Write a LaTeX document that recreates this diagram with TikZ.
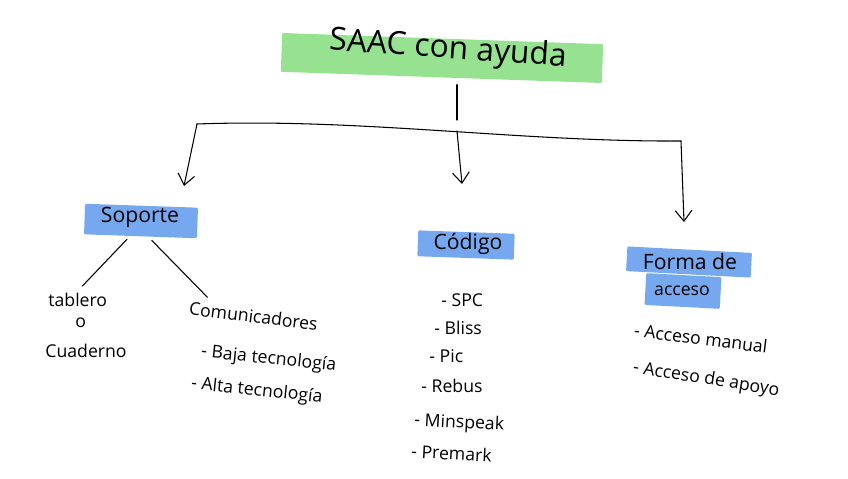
\documentclass[tikz,border=0pt]{standalone}
\usepackage{fontspec}
\setmainfont{Open Sans}
\usetikzlibrary{positioning, arrows.meta, calc}
\definecolor{hlgreen}{RGB}{150,226,145}
\definecolor{hlblue}{RGB}{118,168,240}
\tikzset{hl/.style={inner sep=0pt, rounded corners=1pt},
head_t/.style={font=\fontsize{18}{20}\selectfont, inner sep=1pt},
leaf_t/.style={font=\fontsize{15}{17}\selectfont, anchor=west, inner sep=1pt},
pen/.style={line width=0.9pt, line cap=round, line join=round},
arr/.style={pen, -{Straight Barb[length=3.2mm, width=5mm, line width=0.9pt]}}}

\begin{document}
\begin{tikzpicture}[x=0.85pt, y=-0.85pt]
  \useasboundingbox (0,0) rectangle (848,479);
  % title
  \node[hl, fill=hlgreen, minimum width=273pt, minimum height=33pt, rotate=-2] (titlebg) at (442,58) {};
  \node[font=\fontsize{27}{30}\selectfont, rotate=-4] (title) at (448,50) {SAAC con ayuda};
  % heads
  \node[hl, fill=hlblue, minimum width=96pt, minimum height=26pt, rotate=-2] (sopbg) at (141,221) {};
  \node[head_t] (sop) at (140,217) {Soporte};
  \node[hl, fill=hlblue, minimum width=82pt, minimum height=22pt, rotate=-2] (codbg) at (466,245) {};
  \node[head_t] (cod) at (468,244) {Código};
  \node[hl, fill=hlblue, minimum width=106pt, minimum height=21pt, rotate=-3] (forbg1) at (689,262) {};
  \node[hl, fill=hlblue, minimum width=64pt, minimum height=27pt, rotate=-3] (forbg2) at (683,291) {};
  \node[head_t] (for1) at (690,262) {Forma de};
  \node[head_t, font=\fontsize{15}{17}\selectfont] (for2) at (682,291) {acceso};
  % bus
  \coordinate (hub) at (457,120);
  \coordinate (busL) at (197,124);
  \coordinate (busM) at (457,131);
  \coordinate (busR) at (681,141);
  \coordinate (tipS) at (184,186);
  \coordinate (tipC) at (462,184);
  \coordinate (tipF) at (684,222);
  \draw[pen, shorten <=6pt] (titlebg.south -| hub) -- (hub);
  \draw[pen] (busL) .. controls (360,118) and (520,142) .. (busR);
  \draw[arr] (busL) -- (tipS);
  \draw[arr] (busM) -- (tipC);
  \draw[arr] (busR) -- (tipF);
  % soporte
  \node[leaf_t] (tab) at (47,300) {tablero};
  \node[leaf_t] (o) at (74,323) {o};
  \node[leaf_t] (cua) at (44,351) {Cuaderno};
  \node[leaf_t, rotate=-7] (com) at (188,308) {Comunicadores};
  \node[leaf_t, rotate=-6] (baja) at (200,352) {- Baja tecnología};
  \node[leaf_t, rotate=-6] (alta) at (190,384) {- Alta tecnología};
  \draw[pen] ([xshift=-11pt, yshift=-9pt]sop.south) -- ([xshift=4pt, yshift=5pt]tab.north);
  \draw[pen] ([xshift=10pt, yshift=-10pt]sop.south) -- ([xshift=-40pt, yshift=9pt]com.north);
  % codigo
  \node[leaf_t] (spc) at (440,300) {- SPC};
  \node[leaf_t] (bli) at (433,328) {- Bliss};
  \node[leaf_t] (pic) at (428,356) {- Pic};
  \node[leaf_t] (reb) at (420,386) {- Rebus};
  \node[leaf_t, rotate=-3] (min) at (413,421) {- Minspeak};
  \node[leaf_t, rotate=-3] (pre) at (410,451) {- Premark};
  % forma de acceso
  \node[leaf_t, rotate=-7] (man) at (633,330) {- Acceso manual};
  \node[leaf_t, rotate=-9] (apo) at (632,368) {- Acceso de apoyo};
\end{tikzpicture}
\end{document}
